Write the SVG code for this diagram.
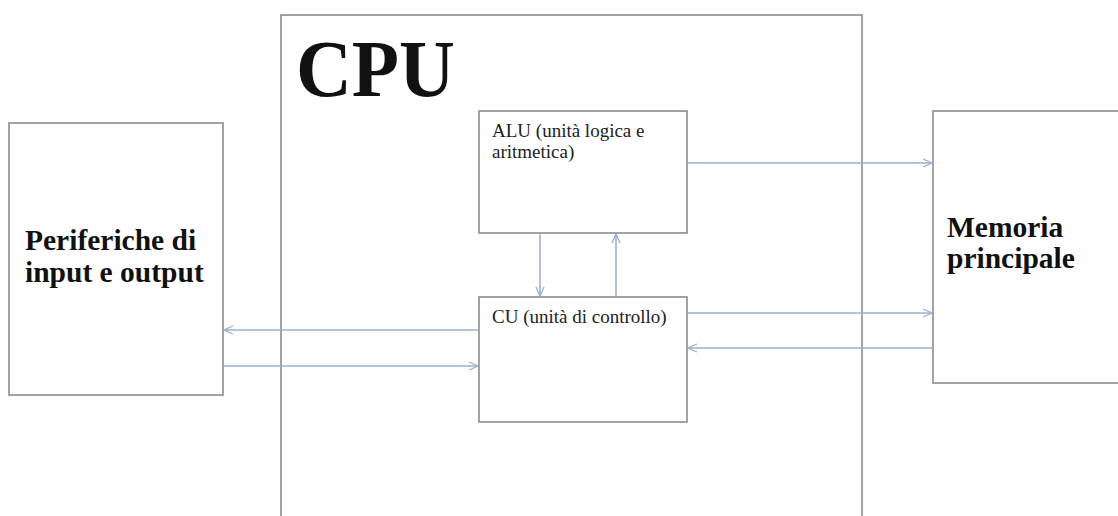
<svg xmlns="http://www.w3.org/2000/svg" width="1118" height="516" viewBox="0 0 1118 516">
  <style>
    .box { fill: #ffffff; stroke: #8c8c8c; stroke-width: 1.6; }
    .big { font-family: "Liberation Serif", "Times New Roman", serif; font-weight: bold; fill: #111; }
    .small { font-family: "Liberation Serif", "Times New Roman", serif; fill: #222; font-size: 19px; }
    .conn { stroke: #9bb1cf; stroke-width: 1.6; fill: none; marker-end: url(#arr); }
  </style>
  <defs>
    <marker id="arr" viewBox="0 0 10 10" refX="10" refY="5" markerWidth="10" markerHeight="10" markerUnits="userSpaceOnUse" orient="auto">
      <path d="M1,1 L10,5 L1,9" fill="none" stroke="#9bb1cf" stroke-width="1.3"/>
    </marker>
  </defs>
  <rect width="1118" height="516" fill="#ffffff"/>

  <g id="cpu">
    <rect class="box" x="281" y="15" width="581" height="520"/>
    <text class="big" x="296" y="96" font-size="80" fill="#000" textLength="159" lengthAdjust="spacingAndGlyphs">CPU</text>
  </g>

  <g id="periferiche">
    <rect class="box" x="9" y="123" width="214" height="272"/>
    <text class="big" x="25" y="250" font-size="29.5">Periferiche di</text>
    <text class="big" x="25" y="282" font-size="29.5">input e output</text>
  </g>

  <g id="memoria">
    <rect class="box" x="933" y="111" width="200" height="272"/>
    <text class="big" x="947" y="237" font-size="29.5">Memoria</text>
    <text class="big" x="947" y="268" font-size="29.5">principale</text>
  </g>

  <g id="alu">
    <rect class="box" x="479" y="111" width="208" height="122"/>
    <text class="small" x="492" y="137">ALU (unità logica e</text>
    <text class="small" x="492" y="158">aritmetica)</text>
  </g>

  <g id="cu">
    <rect class="box" x="479" y="297" width="208" height="125"/>
    <text class="small" x="492" y="323">CU (unità di controllo)</text>
  </g>

  <g id="connectors">
    <line class="conn" x1="540" y1="234" x2="540" y2="296"/>
    <line class="conn" x1="616" y1="296" x2="616" y2="234"/>
    <line class="conn" x1="688" y1="163" x2="932" y2="163"/>
    <line class="conn" x1="688" y1="313" x2="932" y2="313"/>
    <line class="conn" x1="933" y1="348" x2="688" y2="348"/>
    <line class="conn" x1="478" y1="330" x2="224" y2="330"/>
    <line class="conn" x1="224" y1="366" x2="478" y2="366"/>
  </g>
</svg>
